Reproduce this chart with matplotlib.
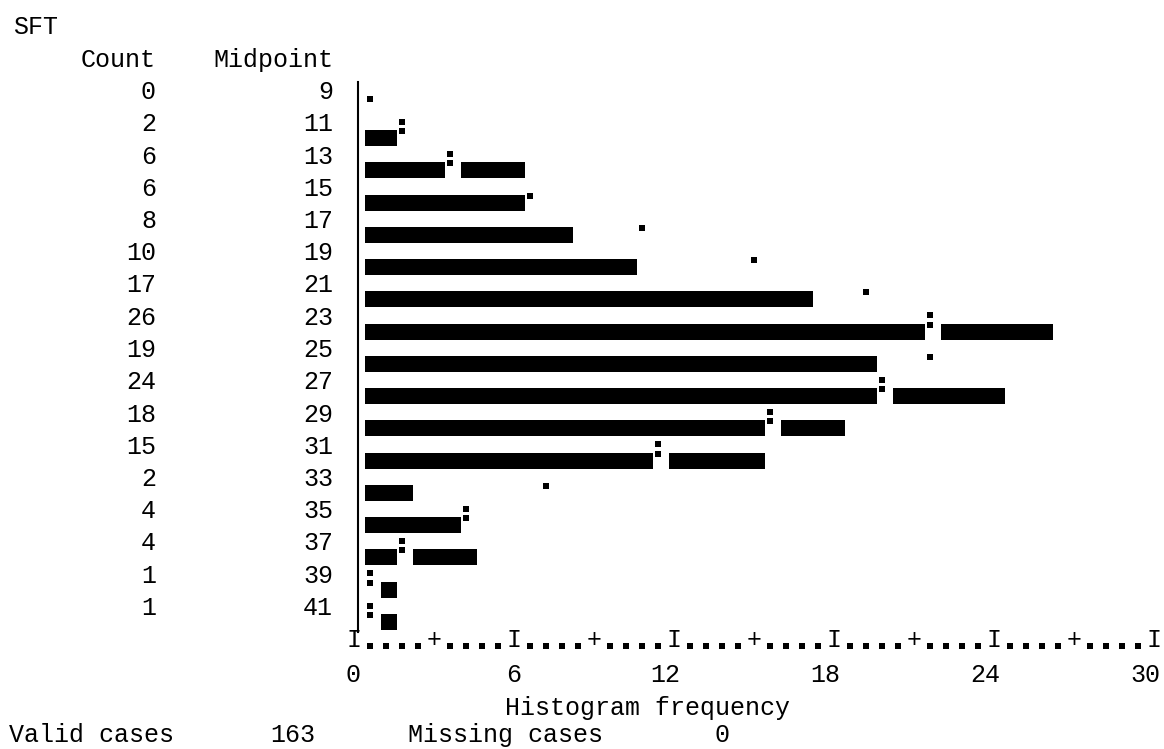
import numpy as np
import matplotlib
matplotlib.use("Agg")
import matplotlib.pyplot as plt

# SPSS style text histogram of SFT with normal curve
midpoints = [9, 11, 13, 15, 17, 19, 21, 23, 25, 27, 29, 31, 33, 35, 37, 39, 41]
counts = [0, 2, 6, 6, 8, 10, 17, 26, 19, 24, 18, 15, 2, 4, 4, 1, 1]
normal_freq = [0.6, 1.8, 3.6, 6.6, 10.8, 15.0, 19.2, 21.6, 21.6, 19.8, 15.6, 11.4, 7.2, 4.2, 1.8, 0.6, 0.6]
freq_ticks = [0, 6, 12, 18, 24, 30]
valid_cases = 163
missing_cases = 0

W, H = 1164, 749
CELL = 0.6          # one character cell = 0.6 frequency units
X_ORIGIN = 354      # pixel of frequency 0
PX_UNIT = 26.667    # pixels per frequency unit
ROW0 = 92           # pixel of first data row
ROW_PX = 32.25      # pixels per text row

plt.rcParams['font.family'] = ['Liberation Mono', 'DejaVu Sans Mono']
FS = 18

fig = plt.figure(figsize=(W / 100, H / 100), dpi=100)
ax = fig.add_axes([0, 0, 1, 1])
ax.set_xlim(-X_ORIGIN / PX_UNIT, (W - X_ORIGIN) / PX_UNIT)
ax.set_ylim((H - ROW0) / ROW_PX, -ROW0 / ROW_PX)
ax.axis('off')


def px(x):
    return (x - X_ORIGIN) / PX_UNIT


ax.text(px(13), -2, "SFT", ha='left', va='center', fontsize=FS)
ax.text(px(156), -1, "Count", ha='right', va='center', fontsize=FS)
ax.text(px(333), -1, "Midpoint", ha='right', va='center', fontsize=FS)

dot_x, dot_y = [], []
for i, (mid, c, nf) in enumerate(zip(midpoints, counts, normal_freq)):
    ax.text(px(156), i, str(c), ha='right', va='center', fontsize=FS)
    ax.text(px(333), i, str(mid), ha='right', va='center', fontsize=FS)
    n = int(round(c / CELL))
    m = int(round(nf / CELL))
    cells = [k for k in range(1, n + 1) if k != m]
    # group consecutive cells into segments
    segs = []
    for k in cells:
        if segs and segs[-1][1] == k - 1:
            segs[-1][1] = k
        else:
            segs.append([k, k])
    for a, b in segs:
        left = CELL * (a - 0.5) + 0.11
        right = CELL * (b + 0.5) + 0.11
        ax.barh(i + 0.43, right - left, left=left, height=0.5, color='black')
    if m <= n:
        dot_x += [CELL * m, CELL * m]
        dot_y += [i - 0.07, i + 0.21]
    else:
        dot_x.append(CELL * m)
        dot_y.append(i + 0.21)
ax.scatter(dot_x, dot_y, marker='s', s=14, color='black', linewidths=0)

# vertical axis
ax.plot([px(358), px(358)], [-0.31, 16.75], color='black', lw=1.5)

# horizontal scale line made of characters
n_cells = int(round(freq_ticks[-1] / CELL))
axis_dots = []
for k in range(n_cells + 1):
    xv = k * CELL
    if k % 10 == 0:
        ax.text(xv, 17.0, "I", ha='center', va='center', fontsize=FS)
    elif k % 5 == 0:
        ax.text(xv, 16.98, "+", ha='center', va='center', fontsize=FS)
    else:
        axis_dots.append(xv)
ax.scatter(axis_dots, [17.18] * len(axis_dots), marker='s', s=14, color='black', linewidths=0)

for t in freq_ticks:
    ax.text(t + 0.25, 18.08, str(t), ha='right', va='center', fontsize=FS)

ax.text(px(505), 19.1, "Histogram frequency", ha='left', va='center', fontsize=FS)
ax.text(px(9), 19.95, "Valid cases", ha='left', va='center', fontsize=FS)
ax.text(px(315), 19.95, str(valid_cases), ha='right', va='center', fontsize=FS)
ax.text(px(408), 19.95, "Missing cases", ha='left', va='center', fontsize=FS)
ax.text(px(729), 19.95, str(missing_cases), ha='right', va='center', fontsize=FS)

fig.savefig("out.png", dpi=100, facecolor='white')
